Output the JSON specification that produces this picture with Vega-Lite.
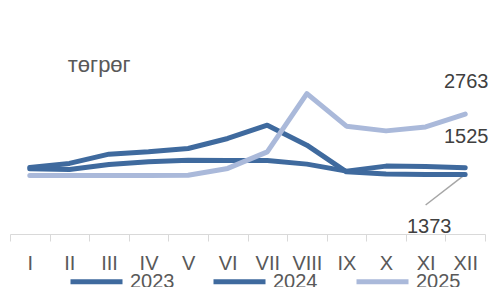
{
  "$schema": "https://vega.github.io/schema/vega-lite/v6.json",
  "width": 475,
  "height": 217,
  "autosize": {"type": "none"},
  "padding": {"left": 10, "top": 17, "right": 6, "bottom": 53},
  "background": "#ffffff",
  "config": {
    "view": {"stroke": null},
    "font": "Liberation Sans",
    "text": {"font": "Liberation Sans"}
  },
  "data": {
    "values": [
      {"m": "I", "year": "2023", "v": 1502},
      {"m": "II", "year": "2023", "v": 1488},
      {"m": "III", "year": "2023", "v": 1603},
      {"m": "IV", "year": "2023", "v": 1663},
      {"m": "V", "year": "2023", "v": 1702},
      {"m": "VI", "year": "2023", "v": 1695},
      {"m": "VII", "year": "2023", "v": 1695},
      {"m": "VIII", "year": "2023", "v": 1610},
      {"m": "IX", "year": "2023", "v": 1449},
      {"m": "X", "year": "2023", "v": 1564},
      {"m": "XI", "year": "2023", "v": 1553},
      {"m": "XII", "year": "2023", "v": 1525},
      {"m": "I", "year": "2024", "v": 1534},
      {"m": "II", "year": "2024", "v": 1626},
      {"m": "III", "year": "2024", "v": 1840},
      {"m": "IV", "year": "2024", "v": 1893},
      {"m": "V", "year": "2024", "v": 1971},
      {"m": "VI", "year": "2024", "v": 2201},
      {"m": "VII", "year": "2024", "v": 2507},
      {"m": "VIII", "year": "2024", "v": 2047},
      {"m": "IX", "year": "2024", "v": 1433},
      {"m": "X", "year": "2024", "v": 1380},
      {"m": "XI", "year": "2024", "v": 1369},
      {"m": "XII", "year": "2024", "v": 1373},
      {"m": "I", "year": "2025", "v": 1350},
      {"m": "II", "year": "2025", "v": 1350},
      {"m": "III", "year": "2025", "v": 1350},
      {"m": "IV", "year": "2025", "v": 1350},
      {"m": "V", "year": "2025", "v": 1352},
      {"m": "VI", "year": "2025", "v": 1511},
      {"m": "VII", "year": "2025", "v": 1893},
      {"m": "VIII", "year": "2025", "v": 3236},
      {"m": "IX", "year": "2025", "v": 2484},
      {"m": "X", "year": "2025", "v": 2376},
      {"m": "XI", "year": "2025", "v": 2468},
      {"m": "XII", "year": "2025", "v": 2763}
    ]
  },
  "encoding": {
    "x": {
      "field": "m",
      "type": "ordinal",
      "sort": ["I","II","III","IV","V","VI","VII","VIII","IX","X","XI","XII"],
      "scale": {"type": "band", "paddingInner": 0, "paddingOuter": 0},
      "axis": {
        "title": null,
        "labelAngle": 0,
        "labelFontSize": 20,
        "labelColor": "#595959",
        "labelPadding": 12,
        "tickSize": 7,
        "tickBand": "extent",
        "tickColor": "#D9D9D9",
        "domainColor": "#D9D9D9",
        "labelFont": "Liberation Sans"
      }
    },
    "y": {
      "field": "v",
      "type": "quantitative",
      "scale": {"domain": [0, 5000]},
      "axis": null
    }
  },
  "layer": [
    {
      "transform": [{"filter": "datum.year == '2024' && datum.m == 'XII'"}],
      "mark": {"type": "rule", "color": "#A6A6A6", "strokeWidth": 1.5},
      "encoding": {
        "x2": {"datum": "XI"},
        "y2": {"datum": 668}
      }
    },
    {
      "mark": {"type": "line", "strokeWidth": 5, "strokeCap": "round", "strokeJoin": "round"},
      "encoding": {
        "color": {
          "field": "year",
          "type": "nominal",
          "scale": {"domain": ["2023", "2024", "2025"], "range": ["#3F6A9E", "#3F6A9E", "#AAB9DA"]},
          "legend": {
            "title": null,
            "orient": "none",
            "direction": "horizontal",
            "legendX": 58,
            "legendY": 236,
            "padding": 0,
            "symbolType": "stroke",
            "symbolSize": 2704,
            "symbolStrokeWidth": 5,
            "labelFontSize": 20,
            "labelColor": "#595959",
            "labelOffset": 5,
            "columnPadding": 28,
            "labelFont": "Liberation Sans"
          }
        }
      }
    },
    {
      "transform": [{"filter": "datum.year == '2025' && datum.m == 'XII'"}],
      "mark": {"type": "text", "fontSize": 20, "color": "#404040", "dy": -26, "dx": 1, "baseline": "alphabetic"},
      "encoding": {"text": {"field": "v"}}
    },
    {
      "transform": [{"filter": "datum.year == '2023' && datum.m == 'XII'"}],
      "mark": {"type": "text", "fontSize": 20, "color": "#404040", "dy": -25, "dx": 1, "baseline": "alphabetic"},
      "encoding": {"text": {"field": "v"}}
    },
    {
      "transform": [{"filter": "datum.year == '2024' && datum.m == 'XII'"}],
      "mark": {"type": "text", "fontSize": 20, "color": "#404040", "dy": 59, "dx": -36, "baseline": "alphabetic"},
      "encoding": {"text": {"field": "v"}}
    },
    {
      "transform": [{"filter": "datum.year == '2023' && datum.m == 'I'"}],
      "mark": {"type": "text", "fontSize": 22, "color": "#595959", "align": "left", "baseline": "alphabetic", "dx": 38},
      "encoding": {
        "y": {"datum": 3726},
        "text": {"value": "төгрөг"}
      }
    }
  ]
}
